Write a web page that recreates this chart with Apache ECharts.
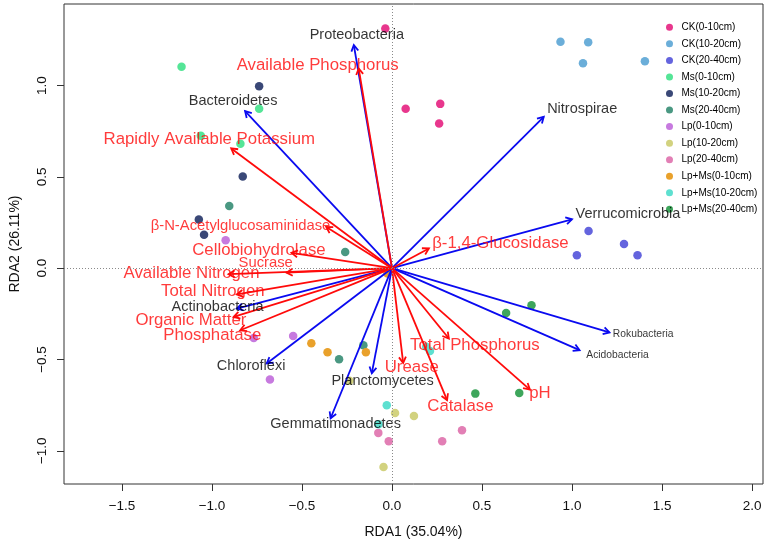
<!DOCTYPE html>
<html><head><meta charset="utf-8">
<script src="https://cdn.jsdelivr.net/npm/echarts@6/dist/echarts.min.js"></script>
<style>html,body{margin:0;padding:0;background:#fff}#c{width:767px;height:546px}</style>
</head><body><div id="c"></div>
<script>
// ---------------- DATA ----------------
const groupNames = ['CK(0-10cm)','CK(10-20cm)','CK(20-40cm)','Ms(0-10cm)','Ms(10-20cm)','Ms(20-40cm)',
  'Lp(0-10cm)','Lp(10-20cm)','Lp(20-40cm)','Lp+Ms(0-10cm)','Lp+Ms(10-20cm)','Lp+Ms(20-40cm)'];
const ck0_10  = [[-0.037,1.313],[0.076,0.873],[0.268,0.900],[0.262,0.793]];
const ck10_20 = [[0.936,1.240],[1.090,1.237],[1.061,1.122],[1.405,1.134]];
const ck20_40 = [[1.092,0.204],[1.289,0.132],[1.027,0.071],[1.364,0.071]];
const ms0_10  = [[-1.169,1.103],[-0.738,0.873],[-1.062,0.725],[-0.842,0.681]];
const ms10_20 = [[-0.738,0.996],[-0.829,0.502],[-1.073,0.267],[-1.044,0.183]];
const ms20_40 = [[-0.904,0.341],[-0.260,0.089],[-0.294,-0.499],[-0.159,-0.422]];
const lp0_10  = [[-0.924,0.153],[-0.768,-0.382],[-0.549,-0.371],[-0.678,-0.610]];
const lp10_20 = [[0.017,-0.793],[0.122,-0.809],[-0.047,-1.089],[-0.236,-0.617]];
const lp20_40 = [[-0.076,-0.902],[-0.018,-0.948],[0.279,-0.948],[0.389,-0.888]];
const lm0_10  = [[-0.448,-0.411],[-0.358,-0.460],[-0.145,-0.460],[-0.025,-0.029]];
const lm10_20 = [[-0.029,-0.751],[0.211,-0.453],[-0.075,-0.855],[0.190,-0.430]];
const lm20_40 = [[0.775,-0.203],[0.634,-0.245],[0.463,-0.687],[0.707,-0.683]];
const groupPoints = [ck0_10,ck10_20,ck20_40,ms0_10,ms10_20,ms20_40,lp0_10,lp10_20,lp20_40,lm0_10,lm10_20,lm20_40];

const speciesNames = ['Proteobacteria','Bacteroidetes','Nitrospirae','Verrucomicrobia','Actinobacteria',
  'Chloroflexi','Gemmatimonadetes','Planctomycetes','Acidobacteria','Rokubacteria'];
const speciesX = [-0.212,-0.816,0.843,1.000,-0.862,-0.696,-0.341,-0.112,1.042,1.208];
const speciesY = [1.222,0.860,0.829,0.268,-0.221,-0.522,-0.822,-0.575,-0.449,-0.352];

const envNames = ['Available Phosphorus','Rapidly Available Potassium','β-N-Acetylglucosaminidase',
  'Cellobiohydrolase','Sucrase','Available Nitrogen','Total Nitrogen','Organic Matter','Phosphatase',
  'β-1,4-Glucosidase','Total Phosphorus','Urease','Catalase','pH'];
const envX = [-0.185,-0.893,-0.365,-0.558,-0.586,-0.908,-0.862,-0.880,-0.843,0.205,0.316,0.062,0.306,0.766];
const envY = [1.094,0.656,0.226,0.084,-0.024,-0.033,-0.144,-0.267,-0.340,0.108,-0.385,-0.519,-0.723,-0.665];

const xTicks = [-1.5,-1.0,-0.5,0.0,0.5,1.0,1.5,2.0];
const yTicks = [-1.0,-0.5,0.0,0.5,1.0];
const xTitle = 'RDA1 (35.04%)';
const yTitle = 'RDA2 (26.11%)';

// ---------------- STYLE ----------------
const FONT = '"Liberation Sans", Arial, Helvetica, sans-serif';
const groupColors = ['#E8378D','#6BAED9','#6464DE','#55E597','#3A4877','#4A9882',
  '#C77ADF','#D2D27F','#E27FB5','#E9A12B','#5EE0D0','#3EA65C'];
const speciesColor = '#0A0AF0';
const envColor = '#FF0A0A';
// label placement relative to arrow tip (pixels): [dx, dy, align, fontSize]
const labelLayout = {
  'Proteobacteria':[3,-10,'center',14.5],
  'Bacteroidetes':[-12,-10,'center',14.5],
  'Nitrospirae':[3.4,-7.7,'left',14.5],
  'Verrucomicrobia':[3.6,-5.7,'left',14.5],
  'Actinobacteria':[-19.3,-1.6,'center',14.5],
  'Chloroflexi':[-15.6,2.4,'center',14.5],
  'Gemmatimonadetes':[5,5.3,'center',14.5],
  'Planctomycetes':[10.8,7.7,'center',14.5],
  'Acidobacteria':[6.7,5,'left',10.3],
  'Rokubacteria':[3.4,1.7,'left',10.3],
  'Available Phosphorus':[-41,-3.3,'center',16.8],
  'Rapidly Available Potassium':[-22,-9,'center',16.8],
  'β-N-Acetylglucosaminidase':[4,-0.7,'right',14.8],
  'Cellobiohydrolase':[-32.6,-2.7,'center',16.8],
  'Sucrase':[-20.8,-9.6,'center',14.8],
  'Available Nitrogen':[-37,-1.3,'center',16.8],
  'Total Nitrogen':[-24,-3.3,'center',16.8],
  'Organic Matter':[-42.7,3.3,'center',16.8],
  'Phosphatase':[-28,5,'center',16.8],
  'β-1,4-Glucosidase':[3.3,-5.6,'left',16.8],
  'Total Phosphorus':[26,6.7,'center',16.8],
  'Urease':[8.6,4.6,'center',16.8],
  'Catalase':[13.3,5.7,'center',16.8],
  'pH':[10,4,'center',16.8]
};

const fmt = v => v.toFixed(1).replace('-', '\u2212');

function arrowSeries(xs, ys, color) {
  return {
    type: 'custom', coordinateSystem: 'cartesian2d', z: 3, silent: true,
    data: xs.map((x, i) => [x, ys[i]]),
    encode: { x: 0, y: 1 },
    renderItem(params, api) {
      const o = api.coord([0, 0]);
      const p = api.coord([api.value(0), api.value(1)]);
      const ang = Math.atan2(p[1] - o[1], p[0] - o[0]);
      const L = 7, a = Math.PI / 6;
      const h1 = [p[0] - L * Math.cos(ang - a), p[1] - L * Math.sin(ang - a)];
      const h2 = [p[0] - L * Math.cos(ang + a), p[1] - L * Math.sin(ang + a)];
      return { type: 'group', children: [
        { type: 'line', shape: { x1: o[0], y1: o[1], x2: p[0], y2: p[1] }, style: { stroke: color, lineWidth: 1.8 } },
        { type: 'polyline', shape: { points: [h1, p, h2] }, style: { stroke: color, lineWidth: 1.8, fill: null } }
      ]};
    }
  };
}

function labelSeries(names, xs, ys, color) {
  return {
    type: 'scatter', z: 4, silent: true, symbolSize: 1,
    itemStyle: { color: 'rgba(0,0,0,0)' },
    data: names.map((n, i) => {
      const L = labelLayout[n];
      return { name: n, value: [xs[i], ys[i]],
        label: { offset: [L[0], L[1]], align: L[2], fontSize: L[3] } };
    }),
    label: { show: true, position: 'inside', formatter: '{b}', color: color,
      verticalAlign: 'middle', fontFamily: FONT }
  };
}

const series = [];
series.push({
  type: 'scatter', data: [], z: 1, silent: true,
  markLine: { silent: true, symbol: 'none', label: { show: false },
    lineStyle: { type: [1, 2], color: '#8a8a8a', width: 1 },
    data: [{ xAxis: 0 }, { yAxis: 0 }], animation: false }
});
groupNames.forEach((g, i) => {
  series.push({ name: g, type: 'scatter', z: 2, symbolSize: 8.5,
    itemStyle: { color: groupColors[i], opacity: 1 }, data: groupPoints[i] });
});
series.push(arrowSeries(speciesX, speciesY, speciesColor));
series.push(arrowSeries(envX, envY, envColor));
series.push(labelSeries(speciesNames, speciesX, speciesY, '#000'));
series.push(labelSeries(envNames, envX, envY, envColor));

const chart = echarts.init(document.getElementById('c'), null, { renderer: 'canvas' });
chart.setOption({
  animation: false,
  backgroundColor: '#fff',
  textStyle: { fontFamily: FONT },
  grid: { left: 59, right: 4, top: 4, bottom: 62, show: true, borderColor: '#333', borderWidth: 1, containLabel: false },
  legend: {
    data: groupNames, orient: 'vertical', left: 666, top: 21.3, padding: 0,
    icon: 'circle', itemWidth: 14, itemHeight: 7, itemGap: 4.55,
    textStyle: { fontSize: 10, lineHeight: 12, color: '#000', fontFamily: FONT }
  },
  xAxis: {
    type: 'value', min: -1.822, max: 2.061, position: 'bottom',
    splitLine: { show: false }, axisLine: { show: false, onZero: false },
    axisTick: { show: true, length: 7, lineStyle: { color: '#333' }, customValues: xTicks },
    axisLabel: { customValues: xTicks, formatter: fmt, margin: 15, fontSize: 13.5, color: '#111', fontFamily: FONT },
    name: xTitle, nameLocation: 'middle', nameGap: 41,
    nameTextStyle: { fontSize: 14, color: '#111', fontFamily: FONT }
  },
  yAxis: {
    type: 'value', min: -1.182, max: 1.447, position: 'left',
    splitLine: { show: false }, axisLine: { show: false, onZero: false },
    axisTick: { show: true, length: 7, lineStyle: { color: '#333' }, customValues: yTicks },
    axisLabel: { customValues: yTicks, formatter: fmt, margin: 15, rotate: 90, fontSize: 13.5, color: '#111', fontFamily: FONT },
    name: yTitle, nameLocation: 'middle', nameGap: 42,
    nameTextStyle: { fontSize: 14, color: '#111', fontFamily: FONT }
  },
  series: series
});
</script></body></html>
